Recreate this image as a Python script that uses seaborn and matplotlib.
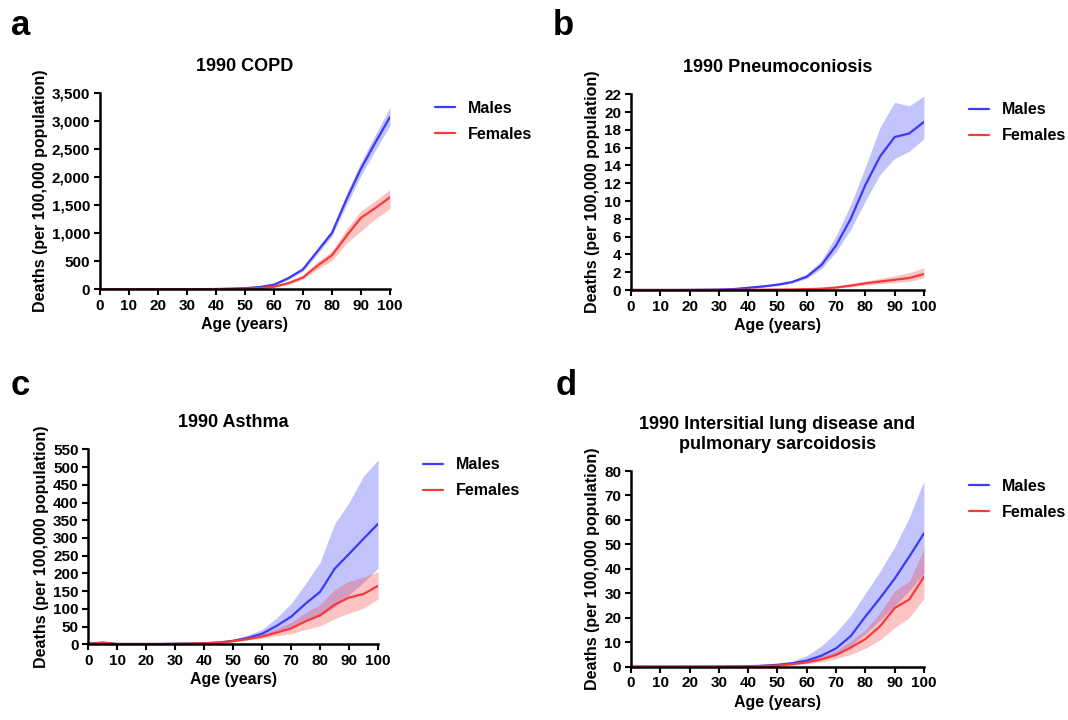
import numpy as np
import pandas as pd
import matplotlib
matplotlib.use("Agg")
import matplotlib.pyplot as plt
import seaborn as sns
from matplotlib.ticker import FuncFormatter

# age groups (years)
ages = list(range(0, 105, 5))

# 1990 COPD
copd_m = [2, 1, 1, 1, 1, 1, 2, 3, 5, 10, 20, 40, 80, 200, 355, 680, 1005, 1600, 2150, 2620, 3070]
copd_m_hi = [3, 2, 2, 2, 2, 2, 3, 4, 6, 12, 24, 48, 95, 225, 385, 730, 1060, 1700, 2270, 2760, 3240]
copd_m_lo = [1, 1, 1, 1, 1, 1, 1, 2, 4, 8, 17, 33, 68, 175, 325, 630, 950, 1500, 2030, 2480, 2920]
copd_f = [2, 1, 1, 1, 1, 1, 1, 2, 3, 6, 12, 22, 45, 110, 210, 420, 606, 950, 1275, 1450, 1640]
copd_f_hi = [3, 2, 2, 2, 2, 2, 2, 3, 4, 8, 15, 28, 55, 135, 250, 490, 680, 1070, 1400, 1580, 1780]
copd_f_lo = [1, 1, 1, 1, 1, 1, 1, 1, 2, 5, 10, 18, 37, 90, 180, 360, 510, 820, 1040, 1260, 1440]

# 1990 Pneumoconiosis
pneu_m = [0.01, 0.01, 0.01, 0.01, 0.02, 0.03, 0.05, 0.1, 0.25, 0.4, 0.6, 0.9, 1.5, 2.8, 5.0, 8.0, 11.8, 15.0, 17.2, 17.6, 18.9]
pneu_m_hi = [0.02, 0.02, 0.02, 0.02, 0.03, 0.05, 0.07, 0.13, 0.3, 0.48, 0.7, 1.05, 1.8, 3.3, 6.1, 9.6, 13.8, 18.3, 21.1, 20.7, 21.8]
pneu_m_lo = [0.0, 0.0, 0.0, 0.0, 0.01, 0.02, 0.04, 0.08, 0.2, 0.33, 0.5, 0.78, 1.3, 2.4, 4.3, 6.8, 10.0, 13.0, 14.8, 15.6, 17.0]
pneu_f = [0.0, 0.0, 0.0, 0.0, 0.0, 0.01, 0.01, 0.02, 0.03, 0.04, 0.05, 0.07, 0.1, 0.15, 0.28, 0.5, 0.75, 0.95, 1.15, 1.35, 1.8]
pneu_f_hi = [0.01, 0.01, 0.01, 0.01, 0.01, 0.02, 0.02, 0.03, 0.04, 0.06, 0.07, 0.1, 0.14, 0.22, 0.4, 0.7, 1.0, 1.3, 1.6, 1.95, 2.5]
pneu_f_lo = [0.0, 0.0, 0.0, 0.0, 0.0, 0.0, 0.01, 0.01, 0.02, 0.03, 0.03, 0.05, 0.07, 0.1, 0.2, 0.35, 0.55, 0.7, 0.85, 0.95, 1.4]

# 1990 Asthma
asth_m = [2, 5, 1, 1, 1, 1, 2, 2, 3, 5, 10, 18, 30, 52, 78, 115, 148, 213, 255, 298, 340]
asth_m_hi = [3, 7, 2, 2, 2, 2, 3, 3, 4, 7, 14, 26, 42, 75, 115, 172, 232, 340, 400, 475, 520]
asth_m_lo = [1, 3, 1, 0.5, 0.5, 0.5, 1, 1, 2, 4, 8, 13, 22, 35, 50, 65, 80, 105, 140, 175, 215]
asth_f = [2, 4, 1, 1, 1, 1, 1, 2, 3, 5, 9, 15, 22, 33, 45, 65, 82, 112, 132, 142, 165]
asth_f_hi = [3, 5, 2, 2, 2, 2, 2, 3, 4, 6, 11, 19, 28, 45, 62, 90, 112, 155, 178, 190, 205]
asth_f_lo = [1, 3, 0.5, 0.5, 0.5, 0.5, 1, 1, 2, 4, 7, 12, 17, 24, 30, 42, 52, 72, 88, 102, 128]

# 1990 Interstitial lung disease and pulmonary sarcoidosis
ild_m = [0.05, 0.03, 0.02, 0.02, 0.03, 0.04, 0.06, 0.1, 0.2, 0.4, 0.8, 1.4, 2.5, 4.5, 7.5, 12.5, 20.5, 28, 36, 45, 54.5]
ild_m_hi = [0.08, 0.05, 0.03, 0.03, 0.04, 0.06, 0.09, 0.15, 0.3, 0.6, 1.2, 2.3, 4.5, 8.5, 14, 21, 30, 39, 49, 61, 76]
ild_m_lo = [0.03, 0.02, 0.01, 0.01, 0.02, 0.03, 0.04, 0.07, 0.14, 0.28, 0.5, 0.9, 1.6, 3.0, 5.0, 8.5, 13.5, 19, 25, 31, 38]
ild_f = [0.04, 0.02, 0.01, 0.01, 0.02, 0.03, 0.05, 0.08, 0.15, 0.3, 0.5, 1.0, 1.8, 3.0, 4.8, 7.8, 11.3, 16.5, 24, 27.5, 36.7]
ild_f_hi = [0.06, 0.03, 0.02, 0.02, 0.03, 0.04, 0.07, 0.12, 0.22, 0.4, 0.7, 1.4, 2.4, 4.2, 6.5, 10.5, 15, 22, 31, 35, 48]
ild_f_lo = [0.02, 0.01, 0.01, 0.01, 0.01, 0.02, 0.03, 0.05, 0.1, 0.2, 0.35, 0.7, 1.2, 2.0, 3.3, 5, 7.5, 11, 16, 20, 28]

panel_letters = ["a", "b", "c", "d"]
panel_titles = ["1990 COPD", "1990 Pneumoconiosis", "1990 Asthma",
                "1990 Intersitial lung disease and\npulmonary sarcoidosis"]
y_ticks = [np.arange(0, 3501, 500), np.arange(0, 23, 2), np.arange(0, 551, 50), np.arange(0, 81, 10)]

BLUE = "#3a3af7"
RED = "#f73a3a"

sns.set_style("ticks")
plt.rcParams["font.family"] = ["Liberation Sans", "DejaVu Sans"]
plt.rcParams["font.weight"] = "bold"
for key in ["text.color", "axes.labelcolor", "xtick.color", "ytick.color", "axes.edgecolor"]:
    plt.rcParams[key] = "black"


def draw_panel(ax, males, m_lo, m_hi, females, f_lo, f_hi, title, ticks):
    df = pd.DataFrame({
        "age": ages + ages,
        "deaths": males + females,
        "sex": ["Males"] * len(ages) + ["Females"] * len(ages),
    })
    ax.fill_between(ages, m_lo, m_hi, color=BLUE, alpha=0.3, linewidth=0)
    ax.fill_between(ages, f_lo, f_hi, color=RED, alpha=0.3, linewidth=0)
    sns.lineplot(data=df, x="age", y="deaths", hue="sex",
                 palette={"Males": BLUE, "Females": RED}, linewidth=1.6, ax=ax)

    ax.set_xlim(0, 100)
    ax.set_ylim(0, ticks[-1])
    ax.set_xticks(range(0, 101, 10))
    ax.set_yticks(ticks)
    if ticks[-1] >= 1000:
        ax.yaxis.set_major_formatter(FuncFormatter(lambda v, p: f"{int(v):,}"))
    ax.set_xlabel("Age (years)", fontsize=11.5, fontweight="bold", labelpad=3)
    ax.set_ylabel("Deaths (per 100,000 population)", fontsize=11.5, fontweight="bold", labelpad=3)
    ax.set_title(title, fontsize=13, fontweight="bold", pad=16)
    ax.tick_params(axis="both", labelsize=11, width=1.5, length=4, pad=3)
    for lab in ax.get_xticklabels() + ax.get_yticklabels():
        lab.set_fontweight("bold")
    for side in ["left", "bottom"]:
        ax.spines[side].set_linewidth(1.8)
    sns.despine(ax=ax)

    ax.legend(loc="upper left", bbox_to_anchor=(1.155, 0.96), frameon=False,
              borderaxespad=0, borderpad=0, handlelength=1.25, handletextpad=0.8,
              labelspacing=0.7, prop={"weight": "bold", "size": 11.5})


fig = plt.figure(figsize=(10.68, 7.2), dpi=100)
positions = [
    [0.0936, 0.5982, 0.2715, 0.2726],
    [0.5908, 0.5972, 0.2743, 0.2718],
    [0.0827, 0.1051, 0.2713, 0.2708],
    [0.5908, 0.074, 0.2743, 0.2718],
]
series = [
    (copd_m, copd_m_lo, copd_m_hi, copd_f, copd_f_lo, copd_f_hi),
    (pneu_m, pneu_m_lo, pneu_m_hi, pneu_f, pneu_f_lo, pneu_f_hi),
    (asth_m, asth_m_lo, asth_m_hi, asth_f, asth_f_lo, asth_f_hi),
    (ild_m, ild_m_lo, ild_m_hi, ild_f, ild_f_lo, ild_f_hi),
]
letter_pos = [(0.010, 0.988), (0.518, 0.988), (0.010, 0.488), (0.520, 0.488)]

for i in range(4):
    ax = fig.add_axes(positions[i])
    draw_panel(ax, *series[i], panel_titles[i], y_ticks[i])
    fig.text(letter_pos[i][0], letter_pos[i][1], panel_letters[i], fontsize=25,
             fontweight="bold", va="top", ha="left")

fig.savefig("out.png", dpi=100)
